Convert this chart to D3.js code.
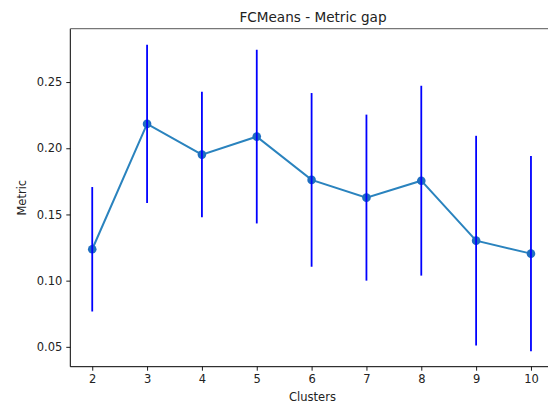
<!DOCTYPE html>
<html>
<head>
<meta charset="utf-8">
<script src="https://cdn.jsdelivr.net/npm/d3@7"></script>
<style>
  html, body { margin: 0; padding: 0; background: #fff; }
  svg { display: block; font-family: "DejaVu Sans", sans-serif; }
</style>
</head>
<body>
<svg id="chart" width="548" height="406"></svg>
<script>
const clusters = [2, 3, 4, 5, 6, 7, 8, 9, 10];
const metric = [0.1237, 0.2184, 0.1952, 0.2088, 0.1761, 0.1627, 0.1755, 0.1302, 0.1204];
const errors = [0.0470, 0.0597, 0.0474, 0.0656, 0.0656, 0.0627, 0.0717, 0.0792, 0.0738];
const yTicks = [0.05, 0.10, 0.15, 0.20, 0.25];
const xTicks = [2, 3, 4, 5, 6, 7, 8, 9, 10];

const svg = d3.select("#chart");
const mLeft = 70.3, mRight = 552.9, mTop = 28.7, mBottom = 366.7;

const x = d3.scaleLinear().domain([1.6, 10.4]).range([mLeft, mRight]);
const y = d3.scaleLinear().domain([0.035, 0.2903]).range([mBottom, mTop]);

const data = clusters.map((c, i) => ({ c, v: metric[i], e: errors[i] }));

// Axes
const xAxis = d3.axisBottom(x).tickValues(xTicks).tickFormat(d3.format("d")).tickSizeOuter(0).tickSize(4).tickPadding(4);
const yAxis = d3.axisLeft(y).tickValues(yTicks).tickFormat(d3.format(".2f")).tickSizeOuter(0).tickSize(4).tickPadding(4);

const gx = svg.append("g").attr("transform", `translate(0,${mBottom})`).call(xAxis);
const gy = svg.append("g").attr("transform", `translate(${mLeft},0)`).call(yAxis);
[gx, gy].forEach(g => {
  g.select(".domain").remove();
  g.selectAll(".tick line").attr("stroke", "#000").attr("stroke-width", 0.9);
  g.selectAll(".tick text").attr("fill", "#222").style("font-size", "11.5px").style("font-family", "DejaVu Sans");
});

// Spines
svg.append("line").attr("x1", mLeft).attr("x2", 548).attr("y1", mBottom).attr("y2", mBottom).attr("stroke", "#000").attr("stroke-width", 1);
svg.append("line").attr("x1", mLeft).attr("x2", mLeft).attr("y1", mTop).attr("y2", mBottom).attr("stroke", "#000").attr("stroke-width", 1);
svg.append("line").attr("x1", mLeft).attr("x2", 548).attr("y1", mTop).attr("y2", mTop).attr("stroke", "#777").attr("stroke-width", 1.2);

// Line
const line = d3.line().x(d => x(d.c)).y(d => y(d.v));
svg.append("path").datum(data).attr("d", line).attr("fill", "none").attr("stroke", "#2a83be").attr("stroke-width", 2);

// Markers
svg.append("g").selectAll("circle").data(data).join("circle")
  .attr("cx", d => x(d.c)).attr("cy", d => y(d.v)).attr("r", 4.3).attr("fill", "#1f6fc0");

// Error bars (on top)
svg.append("g").selectAll("line").data(data).join("line")
  .attr("x1", d => x(d.c)).attr("x2", d => x(d.c))
  .attr("y1", d => y(d.v - d.e)).attr("y2", d => y(d.v + d.e))
  .attr("stroke", "#0000ff").attr("stroke-width", 1.8);

// Title & labels
svg.append("text").attr("x", 313).attr("y", 22).attr("text-anchor", "middle")
  .attr("fill", "#222").style("font-size", "13.6px").text("FCMeans - Metric gap");
svg.append("text").attr("x", 312.5).attr("y", 401).attr("text-anchor", "middle")
  .attr("fill", "#222").style("font-size", "11.5px").text("Clusters");
svg.append("text").attr("transform", `translate(26,${(mTop + mBottom) / 2}) rotate(-90)`).attr("text-anchor", "middle")
  .attr("fill", "#222").style("font-size", "11.5px").text("Metric");
</script>
</body>
</html>
